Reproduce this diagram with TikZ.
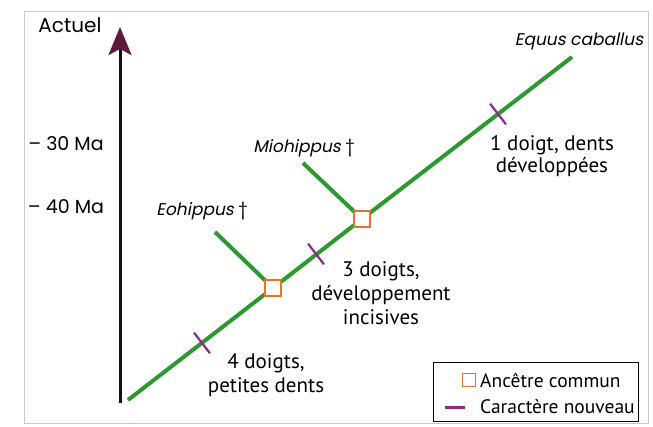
\documentclass[tikz,border=0pt]{standalone}
\usepackage{fontspec}
\setmainfont{PT Sans}
\newfontfamily\gothic[ItalicFont={Poppins},ItalicFeatures={FakeSlant=0.2}]{Poppins}
\usetikzlibrary{arrows.meta,calc}
\definecolor{brgreen}{RGB}{46,152,48}
\definecolor{charpurple}{RGB}{140,40,140}
\definecolor{ancorange}{RGB}{232,114,42}
\definecolor{axisdark}{RGB}{30,10,18}
\definecolor{axishead}{RGB}{92,26,60}
\definecolor{framegrey}{RGB}{200,200,200}
\tikzset{
  branch/.style={draw=brgreen, line width=4pt},
  ancestor/.style={draw=ancorange, line width=1.7pt, fill=white, rectangle, minimum size=16pt, inner sep=0pt},
  charmark/.style={draw=charpurple, line width=2.2pt},
  gothiclabel/.style={font=\gothic\fontsize{20}{24}\selectfont, inner sep=0pt},
  agelabel/.style={font=\gothic\fontsize{19}{23}\selectfont, inner sep=0pt},
  taxon/.style={font=\gothic\itshape\fontsize{17}{20}\selectfont, inner sep=0pt},
  charlabel/.style={font=\fontsize{21}{24}\selectfont, align=center, inner sep=0pt},
  legendtext/.style={font=\fontsize{19.5}{22}\selectfont, anchor=west, inner sep=0pt},
}
\begin{document}
\begin{tikzpicture}[x=1pt,y=-1pt]
\useasboundingbox[fill=white] (0,0) rectangle (653,426);
% faint frame of the page
\draw[framegrey, line width=0.8pt] (24,11) rectangle (648,423);

% time axis
\coordinate (axbot) at (120,403);
\coordinate (axtop) at (120,27);
\draw[axisdark, line width=3pt, -{Stealth[length=28pt,width=23pt,inset=6pt,color=axishead]}] (axbot) -- (axtop);
\node[gothiclabel] (actuel) at (70,25) {Actuel};
\node[agelabel] (m30) at (66,144) {– 30 Ma};
\node[agelabel] (m40) at (66,207) {– 40 Ma};

% tree
\coordinate (root) at (128,400);
\coordinate (equus) at (572,57);
\coordinate (eotip) at (215,232);
\coordinate (miotip) at (303,163);
\coordinate (anc1pos) at (273,288);
\coordinate (anc2pos) at (362,219);
\draw[branch] (root) -- (anc1pos) -- (anc2pos) -- (equus);
\draw[branch] (eotip) -- (anc1pos);
\draw[branch] (miotip) -- (anc2pos);
\node[ancestor] (anc1) at (anc1pos) {};
\node[ancestor] (anc2) at (anc2pos) {};

% new characters
\coordinate (c1) at (202,343);
\coordinate (c2) at (316,254);
\coordinate (c3) at (498,114);
\foreach \c in {c1,c2,c3}{
  \draw[charmark] ($(\c)!13pt!90:(equus)$) -- ($(\c)!13pt!-90:(equus)$);
}

% labels
\node[taxon] (eohippus) at (202,211) {Eohippus {\upshape †}};
\node[taxon] (miohippus) at (304,148) {Miohippus {\upshape †}};
\node[taxon] (equuslab) at (579,41) {Equus caballus};
\node[charlabel] (lab1) at (266,375) {4 doigts,\\petites dents};
\node[charlabel] (lab2) at (381,293) {3 doigts,\\développement\\incisives};
\node[charlabel, font=\fontsize{21}{22.5}\selectfont] (lab3) at (552,156) {1 doigt, dents\\développées};

% legend
\draw[black, line width=0.9pt, fill=white] (433,362) rectangle (638,421);
\node[ancestor, minimum size=13pt] (legsq) at (469,380) {};
\node[legendtext] (legtxt1) at (480,380) {Ancêtre commun};
\coordinate (legl1) at (445,407);
\coordinate (legl2) at (465,407);
\draw[charmark, line width=3pt] (legl1) -- (legl2);
\node[legendtext] (legtxt2) at (480,407) {Caractère nouveau};
\end{tikzpicture}
\end{document}
